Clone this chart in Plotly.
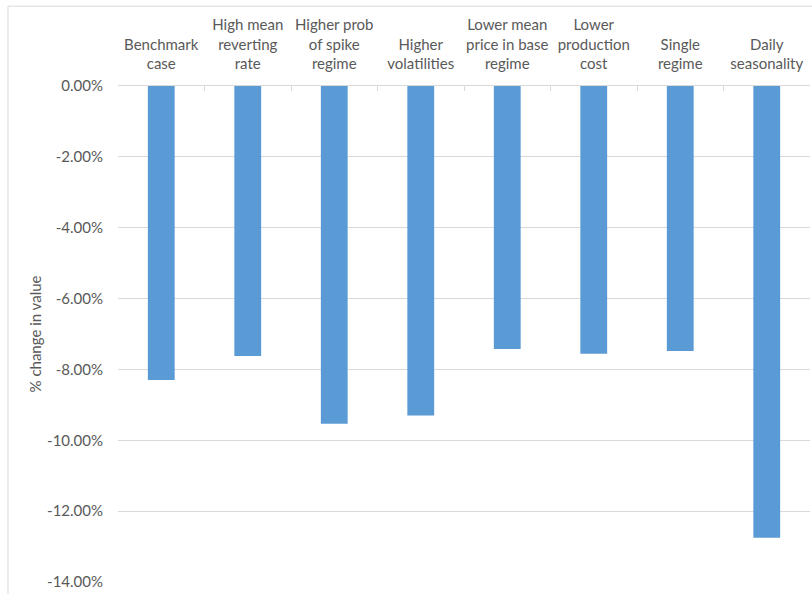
import plotly.graph_objects as go

# Scenario labels (wrapped the way they are printed above the bars)
scenarios = [
    "Benchmark<br>case",
    "High mean<br>reverting<br>rate",
    "Higher prob<br>of spike<br>regime",
    "Higher<br>volatilities",
    "Lower mean<br>price in base<br>regime",
    "Lower<br>production<br>cost",
    "Single<br>regime",
    "Daily<br>seasonality",
]
# Percentage change in value for each scenario
pct_change = [-8.30, -7.62, -9.53, -9.30, -7.42, -7.56, -7.48, -12.75]

y_ticks = [0, -2, -4, -6, -8, -10, -12, -14]
y_tick_labels = [f"{v:.2f}%" for v in y_ticks]

TEXT = "#595959"
GRID = "#d9d9d9"
FONT = "Lato"
SIZE = 15

fig = go.Figure(
    go.Bar(
        x=scenarios,
        y=pct_change,
        marker=dict(color="#5b9bd5", line=dict(width=0)),
        width=0.31,
    )
)

fig.update_layout(
    width=812,
    height=594,
    margin=dict(l=118, r=2, t=86, b=12),
    paper_bgcolor="white",
    plot_bgcolor="white",
    showlegend=False,
    font=dict(family=FONT, size=SIZE, color=TEXT),
    shapes=[
        dict(
            type="rect", xref="paper", yref="paper",
            x0=-0.159, x1=1.05, y0=-0.1, y1=1.161,
            line=dict(color=GRID, width=1), fillcolor="rgba(0,0,0,0)", layer="below",
        )
    ],
)

fig.update_xaxes(
    type="category",
    side="top",
    automargin=False,
    tickangle=0,
    showline=True,
    linecolor=GRID,
    linewidth=1,
    ticks="inside",
    tickson="boundaries",
    ticklen=5,
    tickcolor=GRID,
    showgrid=False,
    tickfont=dict(family=FONT, size=SIZE, color=TEXT),
    ticklabelstandoff=10,
)

fig.update_yaxes(
    range=[-14, 0],
    automargin=False,
    tickvals=y_ticks,
    ticktext=y_tick_labels,
    showgrid=True,
    gridcolor=GRID,
    gridwidth=1,
    zeroline=False,
    showline=False,
    ticks="",
    tickfont=dict(family=FONT, size=SIZE, color=TEXT),
    ticklabelstandoff=14,
    title=dict(text="% change in value", font=dict(family=FONT, size=SIZE, color=TEXT), standoff=1),
)

fig.write_html("out.html")
